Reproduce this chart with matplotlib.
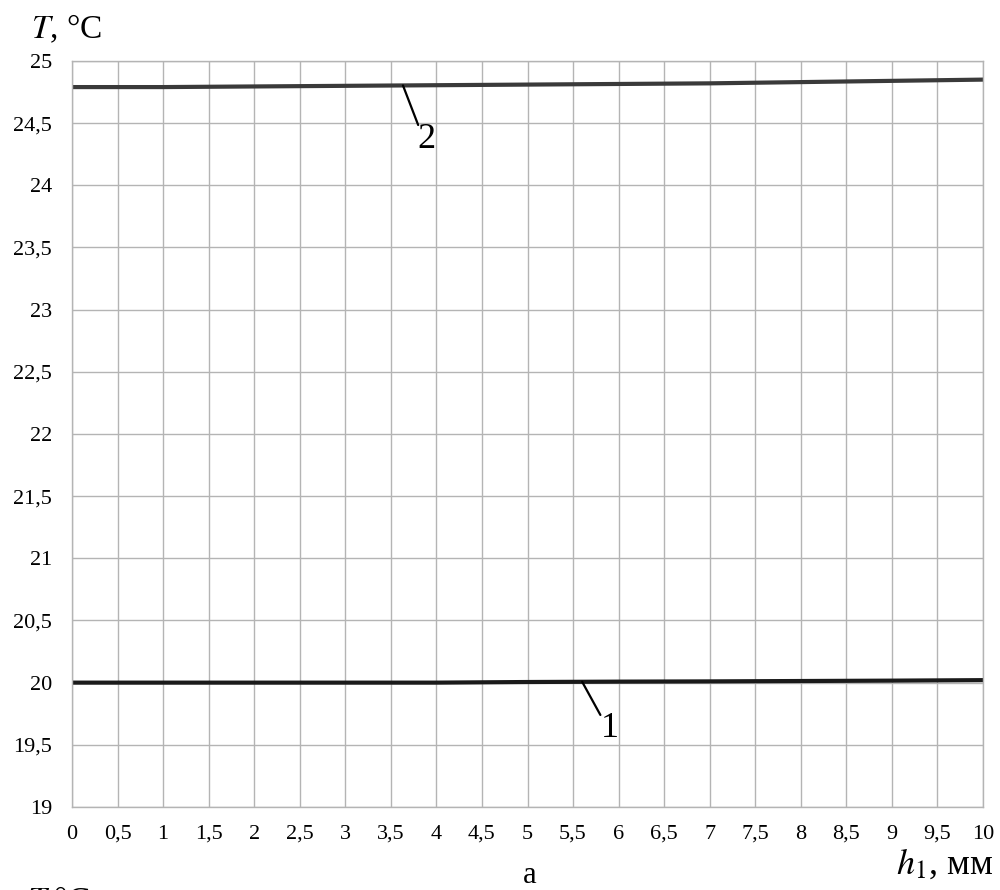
import matplotlib
matplotlib.use("Agg")
import matplotlib.pyplot as plt
import numpy as np

h1 = [0, 1, 2, 3, 4, 5, 6, 7, 8, 9, 10]
T_curve1 = [20.00, 20.00, 20.00, 20.00, 20.00, 20.005, 20.008, 20.01, 20.013, 20.016, 20.02]
T_curve2 = [24.79, 24.79, 24.795, 24.80, 24.805, 24.81, 24.815, 24.82, 24.83, 24.84, 24.85]
xticks = np.arange(0, 10.01, 0.5)
yticks = np.arange(19, 25.01, 0.5)

def fmt(v):
    return ("%g" % v).replace(".", ",")

plt.rcParams['font.family'] = ['Liberation Serif', 'DejaVu Serif']

fig = plt.figure(figsize=(10, 8.9), dpi=100)
ax = fig.add_axes([0.072, 0.0933, 0.911, 0.8382])
ax.set_xlim(0, 10)
ax.set_ylim(19, 25)
ax.set_xticks(xticks)
ax.set_yticks(yticks)
ax.set_xticklabels([fmt(v) for v in xticks], fontsize=16)
ax.set_yticklabels([fmt(v) for v in yticks], fontsize=16)
ax.tick_params(axis='y', length=0, pad=14.5)
ax.tick_params(axis='x', length=0, pad=13)
ax.grid(True, color='#b4b4b4', linewidth=1)
for s in ax.spines.values():
    s.set_color('#b4b4b4')
    s.set_linewidth(1)
ax.set_axisbelow(True)

ax.plot(h1, T_curve2, color='#3a3a3a', linewidth=3)
ax.plot(h1, T_curve1, color='#1a1a1a', linewidth=3)

# leader lines with curve numbers
x2 = 3.633
ax.annotate('', xy=(x2, np.interp(x2, h1, T_curve2)), xytext=(3.80, 24.485),
            arrowprops=dict(arrowstyle='-', color='black', lw=1.6, shrinkA=0, shrinkB=0))
ax.text(3.89, 24.365, '2', fontsize=26, ha='center', va='center')
x1 = 5.60
ax.annotate('', xy=(x1, np.interp(x1, h1, T_curve1)), xytext=(5.80, 19.74),
            arrowprops=dict(arrowstyle='-', color='black', lw=1.6, shrinkA=0, shrinkB=0))
ax.text(5.90, 19.635, '1', fontsize=26, ha='center', va='center')

fig.text(0.031, 0.967, r'$\mathit{T}$, °C', fontsize=24, ha='left', va='center',
         math_fontfamily='stix')
fig.text(0.993, 0.018, r'$\mathit{h}_{1}$, мм', fontsize=26, ha='right', va='baseline',
         math_fontfamily='stix')
fig.text(0.530, 0.016, 'а', fontsize=22, ha='center', va='center')
fig.text(0.027, -0.012, r'$\mathit{T}$,°C', fontsize=24, ha='left', va='center',
         math_fontfamily='stix')

fig.savefig('out.png', dpi=100)
